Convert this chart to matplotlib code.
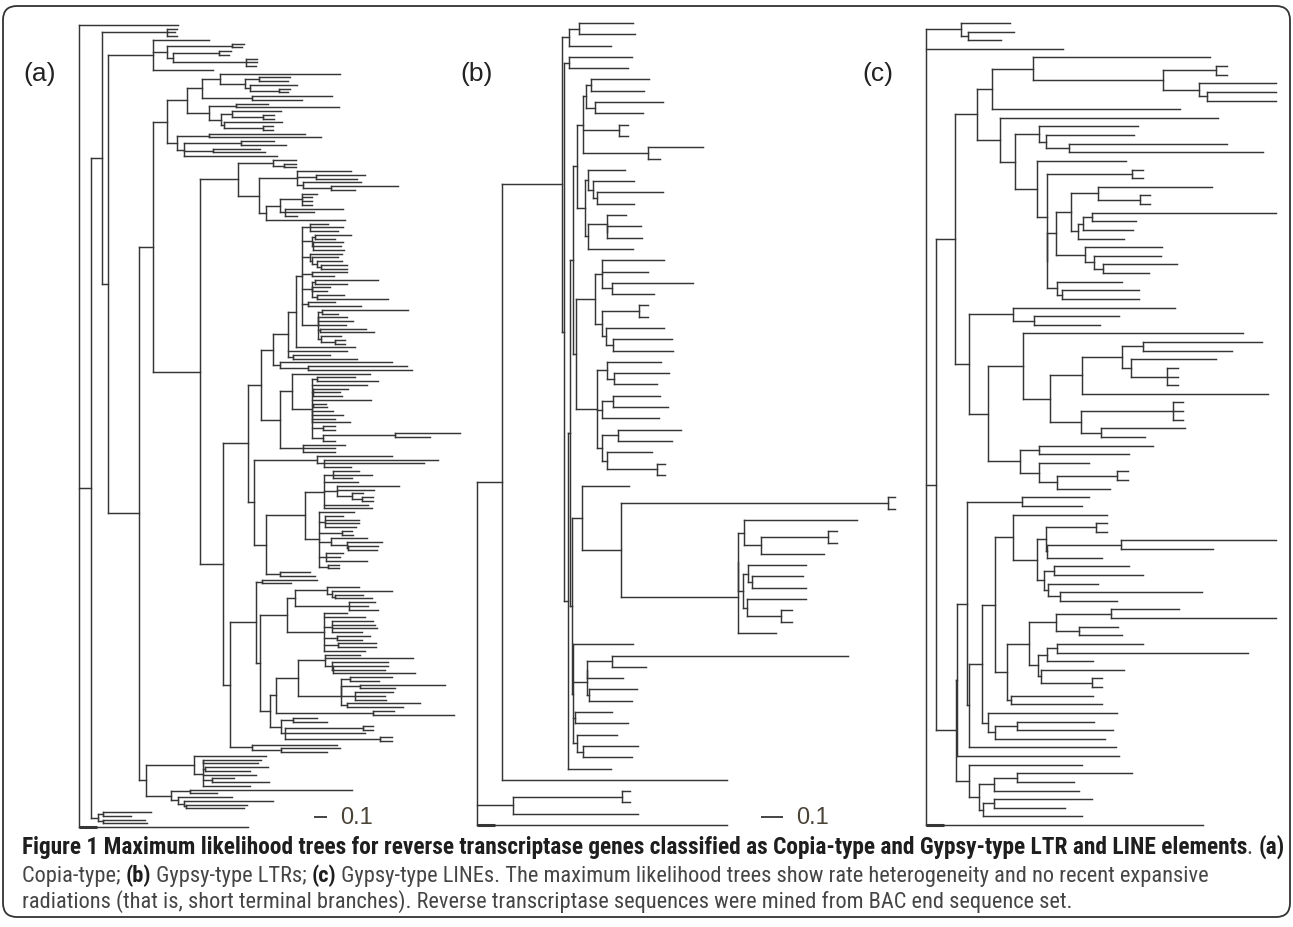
import matplotlib
matplotlib.use("Agg")
import matplotlib.pyplot as plt
from matplotlib.collections import LineCollection
from matplotlib.patches import FancyBboxPatch
from matplotlib import font_manager

# ---------------------------------------------------------------------------
# Tree data, written as nested groups: a bare number is a terminal branch
# length, "(...):n" is an internal branch of length n.
# Units: tree (a) in its own drawing units (scale bar 0.1 = 13 units);
# trees (b) and (c) in finer units (scale bar 0.1 = 66 units).
# ---------------------------------------------------------------------------

# ---- tree (a): Copia-type ----
A_TOP3 = "(10,8,10)"
A_N153A = "(56,((12,10):65,((12,10):46,(11,11,10):73):6):14,60)"
A_N245 = "((31,29):14,(47,(11,9):29):5)"
A_N220 = f"(120,{A_N245}:25)"
A_N202 = f"({A_N220}:18,(80,50):50)"
A_N248X = "((49,(11,11):31):11,(58,(10,10):39):3)"
A_N209 = f"((32,103):27,{A_N248X}:12)"
A_N187 = f"({A_N202}:15,{A_N209}:22)"
A_N184 = "((33,45):57,(47,52):29,93)"
A_N177 = f"((96,112):32,{A_N184}:7)"
A_N167 = f"({A_N187}:20,{A_N177}:10)"
A_N297 = "(54,(49,41):19,(58,(67,24):28):6)"
A_N266A = "(((15,10,10,10):22,(58,29,12):5):14,79)"
A_N238 = f"((23,(12,12):11):35,({A_N297}:38,{A_N266A}:7):21)"
A_D1 = ("((18,33,28):8,((36,20):3,(30,28,31):1):10,(32,(26,(25,(26,26):4):5):2):8,"
        "(35,22):10,((63,32):3,(18,15):0,(27,71):5):10,(27,53):6,"
        "((86,16):4,(29,35,28):0,(46,54):2,(20,(10,10):14):3):16)")
A_N288 = f"(({A_D1}:6,59):8,59,(37,64):5)"
A_N273 = f"({A_N288}:15,(112,(99,104):28):7)"
A_D2 = "((38,61):5,55,(35,27,29):1,59,(13,14):1,(21,31,23,38):0,(12,12):11,((65,35):72,12):11)"
A_N280B = f"((78,{A_D2}:20):12,(42,32,32):23)"
A_N261 = f"({A_N273}:12,{A_N280B}:19)"
A_N317 = "(75,(114,100,27):7)"
A_N324 = "((26,39,19):9,34,(62,37,(11,(11,11):10):15):13,44,48)"
A_N319 = "(35,(18,34,34,31):6,(10,11):23,(36,(35,(30,29):1):16):12,(17,14,41):7,(11,11):9)"
A_N266 = f"(({A_N324}:19,{A_N319}:14):39,(30,35):14)"
A_N248 = f"({A_N261}:13,({A_N317}:63,{A_N266}:12):6)"
A_G1 = "((32,(60,(28,37):3):5):32,(26,19,29):54)"
A_G2 = "(23,41,(41,43,45,30):8,(33,25):13,(38,38):14,41)"
A_G3 = "(35,88,(56,(55,52,82):1):7)"
A_G4 = "(((42,29):9,(85,35):19,(38,30,31):14):0,(73,56):6)"
A_N281 = "((24,34):12,((10,10):78,80,(12,12):95):4)"
A_N270 = f"((({A_G3}:27,{A_G4}:43):22,(21,81):97):6,{A_N281}:11)"
A_N256 = f"((55,29):6,(({A_G1}:8,{A_G2}:37):27,{A_N270}:10):4)"
A_N230 = f"({A_N256}:26,(85,(59,46):29):22)"
A_N200 = f"({A_N238}:38,({A_N248}:25,{A_N230}:7):23)"
A_N194 = "(72,((58,55):0,(63,45):2,53,(22,57):9,47):9)"
A_N171 = "((162,27):19,(54,(89,(61,58):2):6):7)"
A_N139 = f"(({A_N167}:14,{A_N200}:47):14,({A_N194}:48,{A_N171}:25):7)"
A_N102 = f"({A_TOP3}:65,({A_N153A}:45,{A_N139}:31):6)"
TREE_A = f"(99,({A_N102}:11,((48,28):5,(42,44):5):7):12,169)"

# ---- tree (b): Gypsy-type LTRs ----
B_1 = "((161,168):30,125)"
B_2 = "(188,176)"
B_3 = "(((174,161):14,(203,145):27):8,(25,25):108,(165,35):195)"
B_4 = "((110,(124,(196,110):14):13):10,((58,(100,105):2):55,133):10)"
B_5 = "((187,140,(243,127):30):20,((28,28):112,(174,(178,182):20):13):20)"
B_6 = "((164,(166,130):22):30,((142,167):33,172):15,((187,160):50,(137,(25,25):150):15):15)"
B_852 = "(338,((25,25):202,189):51)"
B_848 = "((172,(155,162):10):17,(177,(33,33):102):12)"
B_7 = f"(142,((22,22):801,(({B_852}:19,{B_848}:15):0,114):351):117)"
B_8 = "(178,(((710,102):75,108):0,(142,127):8):40,(110,158):5,(122,(165,147):18):10)"
B_NY = f"((({B_3}:20,{B_4}:25):12,({B_5}:57,{B_6}:62):10):8,({B_7}:30,{B_8}:5):5)"
TREE_B = f"((({B_1}:22,({B_2}:14,({B_NY}:5,127):12):8):179,674):74,((23,23):329,375):106,748)"

# ---- tree (c): Gypsy-type LINEs ----
C_N788 = "((32,32):160,(231,(208,208):23):109)"
C_N277 = f"((532,{C_N788}:390):121,563)"
C_N512 = "((340,(30,30):125):83,(((553,133):25,150):15,138):23)"
C_N555 = "(232,(201,(222,140):26):27)"
C_N441 = f"((32,32):255,(({C_N512}:43,{C_N555}:86):28,(193,(231,231):13):31):0)"
C_N344 = f"((296,(265,(474,582):71):20):73,(268,{C_N441}:31):66)"
C_N231 = f"({C_N277}:46,(655,{C_N344}:44):69)"
C_N667 = "((357,267):63,(254,(33,33,33):107):26)"
C_N450 = f"(({C_N667}:120,558):97,((30,30,30):277,(253,133):59):93)"
C_N360 = "((340,270):58,(150,((33,33):180,159):54):58)"
C_N207 = f"((486,(255,197):63):133,((660,{C_N450}:82):103,{C_N360}:95):58)"
C_N410 = "(((33,33):149,((466,276):222,167):2):28,((227,267):28,(150,(427,172):36):11):23)"
C_N386 = "(((203,495):164,(117,127):69):83,(((256,571):31,137):27,(251,(32,32):153):8):28)"
C_N285 = f"((282,{C_N410}:70):55,({C_N386}:66,(246,275):12):35)"
C_N245 = f"({C_N285}:40,(385,((231,286):67,330):20):20)"
C_B = f"(((203,180):165,({C_N245}:38,440):7):30,488)"
C_N238 = "(((345,170):69,254):45,((294,212):33,295):12)"
C_A = f"({C_B}:3,(338,{C_N238}:31):40)"
TREE_C = f"((147,(137,98):22):105,412,(({C_N231}:66,{C_N207}:42):57,{C_A}:59):30,830)"

SCALE_BAR_LABEL = "0.1"
SCALE_BAR_A = 13    # units of tree (a)
SCALE_BAR_B = 66    # units of tree (b)

LABELS = ["(a)", "(b)", "(c)"]

CAPTION_1 = [("Figure 1 Maximum likelihood trees for reverse transcriptase genes classified as "
              "Copia-type and Gypsy-type LTR and LINE elements", "bold"),
             (". ", "normal"), ("(a)", "bold")]
CAPTION_2 = [("Copia-type; ", "normal"), ("(b)", "bold"), (" Gypsy-type LTRs; ", "normal"),
             ("(c)", "bold"),
             (" Gypsy-type LINEs. The maximum likelihood trees show rate heterogeneity and no recent expansive",
              "normal")]
CAPTION_3 = [("radiations (that is, short terminal branches). Reverse transcriptase sequences "
              "were mined from BAC end sequence set.", "normal")]


def parse(s):
    s = "".join(s.split())
    pos = 0

    def number():
        nonlocal pos
        start = pos
        while pos < len(s) and (s[pos].isdigit() or s[pos] == "."):
            pos += 1
        return float(s[start:pos])

    def node():
        nonlocal pos
        if s[pos] == "(":
            pos += 1
            kids = [node()]
            while s[pos] == ",":
                pos += 1
                kids.append(node())
            pos += 1  # ')'
            length = 0.0
            if pos < len(s) and s[pos] == ":":
                pos += 1
                length = number()
            return {"len": length, "kids": kids}
        return {"len": number(), "kids": []}

    return node()


def count_leaves(nd):
    if not nd["kids"]:
        return 1
    return sum(count_leaves(k) for k in nd["kids"])


def tree_segments(tree, x0, y_top, y_bot, px):
    n = count_leaves(tree)
    step = (y_bot - y_top) / (n - 1)
    segs = []
    idx = [0]

    def walk(nd, xp):
        x = xp + nd["len"] * px
        if not nd["kids"]:
            y = y_top + idx[0] * step
            idx[0] += 1
        else:
            ys = [walk(k, x) for k in nd["kids"]]
            y = (ys[0] + ys[-1]) / 2
            segs.append([(x, ys[0]), (x, ys[-1])])
        segs.append([(xp, y), (x, y)])
        return y

    walk(tree, x0)
    return segs


W, H = 1293, 928
fig = plt.figure(figsize=(W / 100, H / 100), dpi=100)
ax = fig.add_axes([0, 0, 1, 1])
ax.set_xlim(0, W)
ax.set_ylim(H, 0)
ax.axis("off")

line_color = "#363636"
panels = [
    (TREE_A, 79, 26, 828, 1.0),
    (TREE_B, 477.3, 24, 826, 1 / 3),
    (TREE_C, 926, 24, 826, 1 / 3),
]
for tree_str, x0, yt, yb, px in panels:
    tree = parse(tree_str)
    segs = tree_segments(tree, x0, yt, yb, px)
    ax.add_collection(LineCollection(segs, colors=line_color, linewidths=1.05,
                                     capstyle="projecting"))
    # short heavier stub at the base of the basal branch
    ax.plot([x0, x0 + 18], [yb, yb], color=line_color, lw=2.2, solid_capstyle="butt")

# panel labels
for lab, xc in zip(LABELS, [40, 477, 878]):
    ax.text(xc, 74, lab, fontsize=19, ha="center", va="center",
            family=["Liberation Sans", "DejaVu Sans"], color="#222222")

# scale bars
for xs, units, px in [(314, SCALE_BAR_A, 1.0), (761, SCALE_BAR_B, 1 / 3)]:
    ax.plot([xs, xs + units * px], [818, 818], color="#444444", lw=1.4, solid_capstyle="butt")
    ax.text(xs + units * px + 13, 818, SCALE_BAR_LABEL, fontsize=17, ha="left", va="center",
            family=["Liberation Sans", "DejaVu Sans"], color="#4a4338")

# frame
ax.add_patch(FancyBboxPatch((3, 7), 1287, 911, boxstyle="round,pad=0,rounding_size=14",
                            fill=False, ec="#333333", lw=1.3))

# caption font: prefer a narrow / condensed humanist face if one is installed
fonts = font_manager.fontManager.ttflist
names = {f.name for f in fonts}
cap_family, cap_stretch = "DejaVu Sans", "normal"
for nm in ["Liberation Sans Narrow", "Roboto Condensed", "Open Sans Condensed",
           "Noto Sans Condensed", "DejaVu Sans Condensed", "Lato Condensed"]:
    if nm in names:
        cap_family = nm
        break
else:
    for fam in ["Noto Sans", "Open Sans", "DejaVu Sans", "Roboto"]:
        if any(f.name == fam and f.stretch in ("condensed", "semi-condensed", 500, 600)
               for f in fonts):
            cap_family, cap_stretch = fam, "condensed"
            break
    else:
        cap_family = next((f for f in ["Open Sans", "Noto Sans"] if f in names), "DejaVu Sans")

renderer = fig.canvas.get_renderer()


def text_width(s, size, weight):
    kw = dict(fontsize=size, weight=weight, family=cap_family, stretch=cap_stretch)
    t = ax.text(0, 0, "|" + s + "|", **kw)
    w1 = t.get_window_extent(renderer).width
    t.remove()
    t = ax.text(0, 0, "||", **kw)
    w0 = t.get_window_extent(renderer).width
    t.remove()
    return w1 - w0


def line_width(segments, size):
    return sum(text_width(s, size, w) for s, w in segments)


def fit_size(segments, target, base=14.0):
    size = base
    for _ in range(4):
        size *= target / line_width(segments, size)
    return size


def draw_caption(segments, x, y, size):
    for s, w in segments:
        col = "#1e1e1e" if w == "bold" else "#454545"
        ax.text(x, y, s, fontsize=size, weight=w, family=cap_family, stretch=cap_stretch,
                color=col, ha="left", va="baseline")
        x += text_width(s, size, w)


s1 = fit_size(CAPTION_1, 1285 - 22)
s2 = fit_size(CAPTION_2, 1210 - 22)
draw_caption(CAPTION_1, 22, 854, s1)
draw_caption(CAPTION_2, 22, 882, s2)
draw_caption(CAPTION_3, 22, 908, s2)

fig.savefig("out.png", dpi=100)
